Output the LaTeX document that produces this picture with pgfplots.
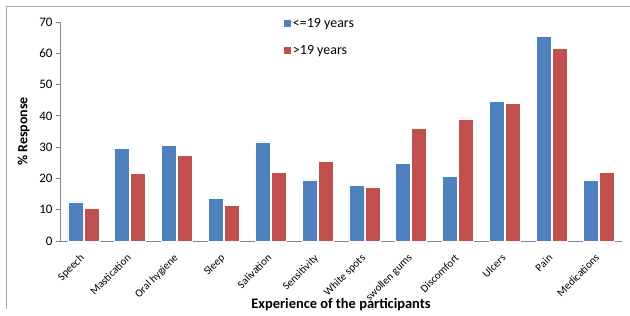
\documentclass[border=0pt]{standalone}
\usepackage{pgfplots}
\pgfplotsset{compat=1.18}
\usepackage{fontspec}
\setmainfont{Carlito}
\definecolor{cblue}{HTML}{4F81BD}
\definecolor{cred}{HTML}{C0504D}
\definecolor{axgray}{HTML}{868686}
\pgfplotsset{sqlegend/.style={legend image code/.code={\fill[##1,draw=none] (0bp,-3.5bp) rectangle (7bp,3.5bp);}}}
\begin{document}
\begin{tikzpicture}[x=1bp,y=1bp]
\useasboundingbox (-60,-74) rectangle (570,241);
\draw[axgray!70,line width=0.8bp] (-54,-68) -- (-54,235) -- (570,235);
\begin{axis}[
  at={(0,0)}, anchor=south west,
  scale only axis, width=562bp, height=219bp,
  ybar=1bp, bar width=15bp,
  xmin=-0.5, xmax=11.5, ymin=0, ymax=70,
  enlarge x limits=false, enlarge y limits=false,
  axis x line*=bottom, axis y line*=left,
  axis line style={axgray, line width=0.8bp},
  xtick={0,...,11},
  xticklabels={Speech,Mastication,Oral hygiene,Sleep,Salivation,Sensitivity,White spots,swollen gums,Discomfort,Ulcers,Pain,Medications},
  x tick label style={font=\fontsize{11}{11}\selectfont, xshift=-4bp, yshift=-8bp, rotate=45, anchor=north east, inner sep=0bp},
  x tick style={draw=none},
  ytick={0,10,...,70},
  y tick label style={font=\fontsize{13}{13}\selectfont},
  y tick style={axgray, line width=0.8bp},
  tick align=outside, major tick length=4bp,
  /pgf/number format/assume math mode=true,
  ylabel={\bfseries \% Response},
  ylabel style={font=\fontsize{14}{14}\selectfont, at={(-27bp,0.5)}, anchor=south},
  xlabel={\bfseries Experience of the participants},
  xlabel style={font=\fontsize{14.5}{14.5}\selectfont, at={(0.5,-67bp)}, anchor=base},
  legend style={draw=none, fill=none, at={(rel axis cs:0.4,1.0)}, anchor=north west,
    xshift=-4bp, yshift=8bp,
    font=\fontsize{14}{14}\selectfont, row sep=13bp, legend cell align=left},
]
\addplot[fill=cblue, draw=white, line width=0.6bp, sqlegend] coordinates {
(0,12.5) (1,29.5) (2,30.5) (3,13.7) (4,31.7) (5,19.5) (6,17.7) (7,24.7) (8,20.7) (9,44.5) (10,65.3) (11,19.5)};
\addplot[fill=cred, draw=white, line width=0.6bp, sqlegend] coordinates {
(0,10.5) (1,21.5) (2,27.3) (3,11.5) (4,22) (5,25.5) (6,17.3) (7,36) (8,39) (9,44) (10,61.5) (11,22)};
\legend{<=19 years, >19 years}
\end{axis}
\end{tikzpicture}
\end{document}
